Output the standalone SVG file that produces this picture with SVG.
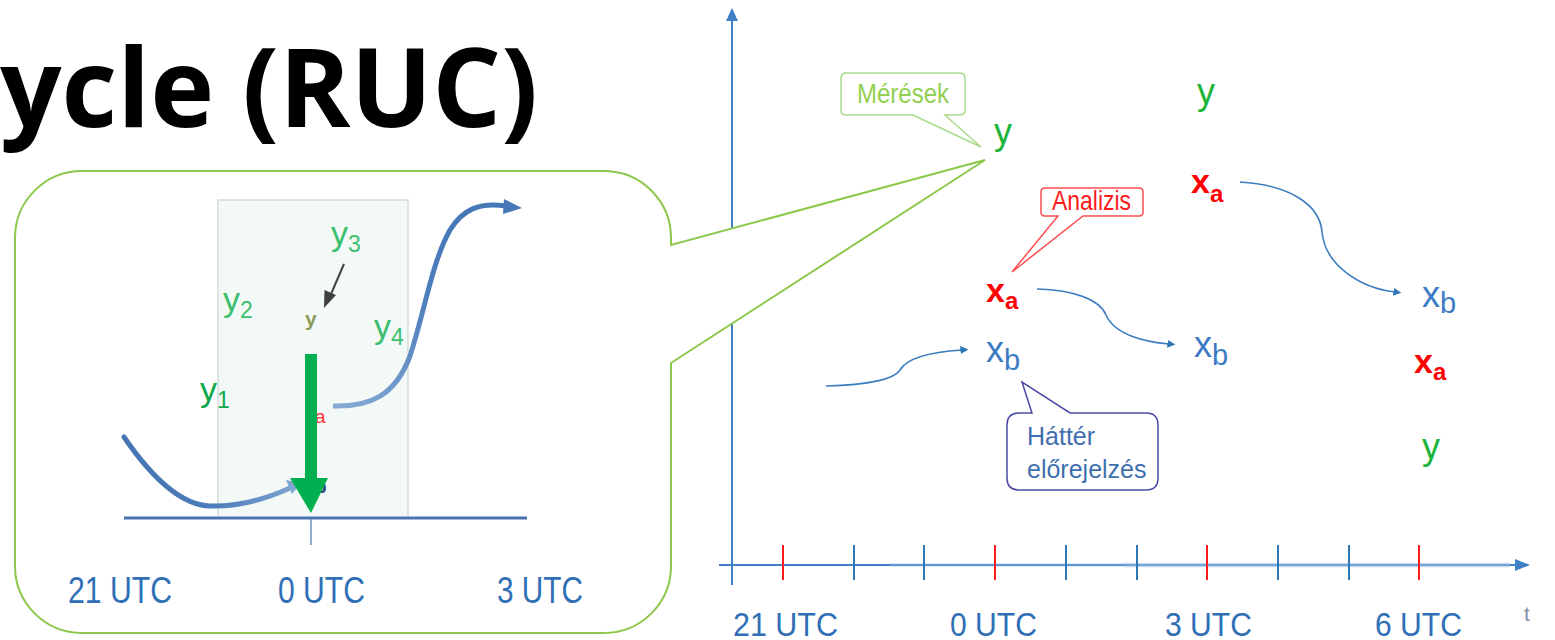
<svg xmlns="http://www.w3.org/2000/svg" width="1555" height="640" viewBox="0 0 1555 640">
  <defs>
    <style>
      .narrow { font-family: "Liberation Sans Narrow", "Liberation Sans", Arial, sans-serif; }
      .sans { font-family: "Liberation Sans", Arial, sans-serif; }
      .utc { fill: #2f6fb5; }
      .ylab { fill: #3cbf6e; }
      .obsy { fill: #1db43a; }
      .xa { fill: #ff0000; font-weight: bold; }
      .xb { fill: #3b7bc4; }
      .flow { fill: none; stroke: #3b7dc0; stroke-width: 1.6; }
      .tick-b { stroke: #2e75b6; stroke-width: 2; }
      .tick-r { stroke: #ff1a1a; stroke-width: 2; }
    </style>
    <marker id="blueHead" viewBox="0 0 10 10" refX="2" refY="5" markerWidth="8" markerHeight="8" markerUnits="userSpaceOnUse" orient="auto">
      <path d="M0,0 L10,5 L0,10 z" fill="#2e75b6"/>
    </marker>
    <linearGradient id="leftCurve" gradientUnits="userSpaceOnUse" x1="124" y1="0" x2="300" y2="0">
      <stop offset="0" stop-color="#4673b3"/>
      <stop offset="0.5" stop-color="#4c7cbb"/>
      <stop offset="1" stop-color="#80a6d2"/>
    </linearGradient>
    <linearGradient id="rightCurve" gradientUnits="userSpaceOnUse" x1="333" y1="406" x2="460" y2="220">
      <stop offset="0" stop-color="#86aad4"/>
      <stop offset="0.6" stop-color="#4f7fbd"/>
      <stop offset="1" stop-color="#4677b7"/>
    </linearGradient>
  </defs>

  <!-- heading -->
  <text x="0" y="127" font-family="'Open Sans', 'Noto Sans', sans-serif" font-weight="bold" font-size="110" fill="#000" textLength="538" lengthAdjust="spacingAndGlyphs">ycle (RUC)</text>

  <!-- time chart axes -->
  <g id="axes">
    <line x1="732" y1="585" x2="732" y2="20" stroke="#3f7fc6" stroke-width="2"/>
    <path d="M726,21 L732,8 L738,21 z" fill="#3f7fc6"/>
    <line x1="719" y1="565" x2="1517" y2="565" stroke="#3f7fc6" stroke-width="2"/>
    <line x1="890" y1="565" x2="1510" y2="565" stroke="#9dc3e6" stroke-width="4" opacity="0.35"/>
    <line x1="1123" y1="565" x2="1510" y2="565" stroke="#9dc3e6" stroke-width="5" opacity="0.3"/>
    <path d="M1515,559 L1530,565 L1515,571 z" fill="#3f7fc6"/>
    <line class="tick-r" x1="783" y1="545" x2="783" y2="580"/>
    <line class="tick-b" x1="854" y1="545" x2="854" y2="580"/>
    <line class="tick-b" x1="924" y1="545" x2="924" y2="580"/>
    <line class="tick-r" x1="995" y1="545" x2="995" y2="580"/>
    <line class="tick-b" x1="1066" y1="545" x2="1066" y2="580"/>
    <line class="tick-b" x1="1137" y1="545" x2="1137" y2="580"/>
    <line class="tick-r" x1="1207" y1="545" x2="1207" y2="580"/>
    <line class="tick-b" x1="1278" y1="545" x2="1278" y2="580"/>
    <line class="tick-b" x1="1349" y1="545" x2="1349" y2="580"/>
    <line class="tick-r" x1="1419" y1="545" x2="1419" y2="580"/>
    <g class="narrow utc" font-size="33">
      <text x="733" y="636" textLength="105" lengthAdjust="spacingAndGlyphs">21 UTC</text>
      <text x="950" y="636" textLength="87" lengthAdjust="spacingAndGlyphs">0 UTC</text>
      <text x="1165" y="636" textLength="87" lengthAdjust="spacingAndGlyphs">3 UTC</text>
      <text x="1375" y="636" textLength="87" lengthAdjust="spacingAndGlyphs">6 UTC</text>
    </g>
    <text x="1524" y="621" class="sans" font-size="21" fill="#7f8fa6">t</text>
  </g>

  <!-- zoomed callout of the 0 UTC assimilation window -->
  <g id="zoom-callout">
    <path d="M82,171 H605 A67,67 0 0 1 671,238 V245 L985,160 L671,363 V566 A67,67 0 0 1 604,633 H82 A67,67 0 0 1 15,566 V238 A67,67 0 0 1 82,171 Z" fill="#ffffff" stroke="#8cc84b" stroke-width="2"/>
    <rect x="218" y="200" width="190" height="318" fill="#f3f9f7" stroke="#d3dbd9" stroke-width="1.5"/>
    <line x1="124" y1="518" x2="527" y2="518" stroke="#4a72b0" stroke-width="3"/>
    <line x1="311" y1="518" x2="311" y2="545" stroke="#4a72b0" stroke-width="1.2"/>

    <!-- background trajectory into the window -->
    <path d="M124,437 C150,475 180,505 210,506 C240,507 268,498 290,488" fill="none" stroke="url(#leftCurve)" stroke-width="5" stroke-linecap="round"/>
    <path d="M286,480 L301,483 L292,494 z" fill="#80a6d2"/>
    <!-- forecast trajectory out of the window -->
    <path d="M333,406 C370,407 395,396 410,356 C425,310 432,262 450,230 C463,209 480,202 506,206" fill="none" stroke="url(#rightCurve)" stroke-width="5" stroke-linecap="butt"/>
    <path d="M504,199 L522,208 L503,214 z" fill="#4677b7"/>

    <!-- state labels mostly hidden under the increment arrow -->
    <text x="306" y="413" class="sans" font-size="18" font-weight="bold" fill="#ff3333">x</text>
    <text x="315" y="423" class="sans" font-size="19" fill="#ff3333">a</text>
    <text x="304" y="485" class="sans" font-size="20" fill="#2a4a7a">x</text>
    <text x="315" y="493" class="sans" font-size="19" font-weight="bold" fill="#2a4a7a">b</text>

    <!-- observation labels -->
    <g class="narrow" font-size="34">
      <text x="200" y="401" fill="#10a84c">y<tspan font-size="23" dy="7">1</tspan></text>
      <text x="223" y="311" class="ylab">y<tspan font-size="23" dy="7">2</tspan></text>
      <text x="331" y="245" class="ylab">y<tspan font-size="23" dy="7">3</tspan></text>
      <text x="374" y="338" class="ylab">y<tspan font-size="23" dy="7">4</tspan></text>
    </g>
    <text x="305" y="326" class="sans" font-size="21" font-weight="bold" fill="#8a9a5a">y</text>
    <line x1="344" y1="264" x2="331" y2="294" stroke="#404040" stroke-width="2"/>
    <path d="M324,308 L324.5,290 L336,295 z" fill="#404040"/>

    <!-- analysis increment -->
    <path d="M305,354 H317 V478 H328 L311,513 L290,478 H305 Z" fill="#00b050"/>

    <g class="narrow utc" font-size="36">
      <text x="68" y="603" textLength="104" lengthAdjust="spacingAndGlyphs">21 UTC</text>
      <text x="278" y="603" textLength="87" lengthAdjust="spacingAndGlyphs">0 UTC</text>
      <text x="497" y="603" textLength="86" lengthAdjust="spacingAndGlyphs">3 UTC</text>
    </g>
  </g>

  <!-- connectors between states -->
  <g id="connectors">
    <path class="flow" d="M826,386 C860,385 893,381 900,370 C907,358 930,352 962,350" marker-end="url(#blueHead)"/>
    <path class="flow" d="M1037,289 C1075,290 1100,300 1106,315 C1115,335 1145,342 1169,344" marker-end="url(#blueHead)"/>
    <path class="flow" d="M1240,182 C1290,185 1320,205 1322,232 C1325,265 1360,288 1395,292" marker-end="url(#blueHead)"/>
  </g>

  <!-- observations -->
  <g id="obs-0utc"><text x="994" y="144" class="sans obsy" font-size="36">y</text></g>
  <g id="obs-3utc"><text x="1197" y="104" class="sans obsy" font-size="36">y</text></g>
  <g id="obs-6utc"><text x="1422" y="459" class="sans obsy" font-size="36">y</text></g>

  <!-- analyses -->
  <g id="xa-0utc"><text x="986" y="302" class="sans xa" font-size="34">x<tspan font-size="24" dy="7">a</tspan></text></g>
  <g id="xa-3utc"><text x="1191" y="193" class="sans xa" font-size="34">x<tspan font-size="24" dy="9">a</tspan></text></g>
  <g id="xa-6utc"><text x="1414" y="373" class="sans xa" font-size="34">x<tspan font-size="24" dy="7">a</tspan></text></g>

  <!-- background states -->
  <g id="xb-0utc"><text x="986" y="362" class="narrow xb" font-size="36">x<tspan font-size="29" dy="8">b</tspan></text></g>
  <g id="xb-3utc"><text x="1194" y="357" class="narrow xb" font-size="36">x<tspan font-size="29" dy="8">b</tspan></text></g>
  <g id="xb-6utc"><text x="1422" y="307" class="narrow xb" font-size="36">x<tspan font-size="29" dy="6">b</tspan></text></g>

  <!-- callouts -->
  <g id="callout-meresek">
    <path d="M846,73 H960 Q965,73 965,78 V110 Q965,115 960,115 H945 L981,147 L913,115 H846 Q841,115 841,110 V78 Q841,73 846,73 Z" fill="#ffffff" stroke="#a9d98b" stroke-width="1.5"/>
    <text x="857" y="103" class="narrow" font-size="28" fill="#92d050" textLength="92" lengthAdjust="spacingAndGlyphs">Mérések</text>
  </g>
  <g id="callout-analizis">
    <path d="M1045,188 H1139 Q1143,188 1143,192 V212 Q1143,216 1139,216 H1083 L1012,272 L1058,216 H1045 Q1041,216 1041,212 V192 Q1041,188 1045,188 Z" fill="#ffffff" stroke="#ff4d4d" stroke-width="1.5"/>
    <text x="1052" y="210" class="narrow" font-size="28" fill="#ff1a1a" textLength="79" lengthAdjust="spacingAndGlyphs">Analizis</text>
  </g>
  <g id="callout-hatter">
    <path d="M1019,413 H1032 L1022,382 L1070,413 H1146 Q1158,413 1158,425 V478 Q1158,490 1146,490 H1019 Q1007,490 1007,478 V425 Q1007,413 1019,413 Z" fill="#ffffff" stroke="#4b4ba6" stroke-width="1.5"/>
    <text x="1027" y="445" class="narrow" font-size="25" fill="#3f6fae">Háttér</text>
    <text x="1027" y="478" class="narrow" font-size="25" fill="#3f6fae">előrejelzés</text>
  </g>
</svg>
